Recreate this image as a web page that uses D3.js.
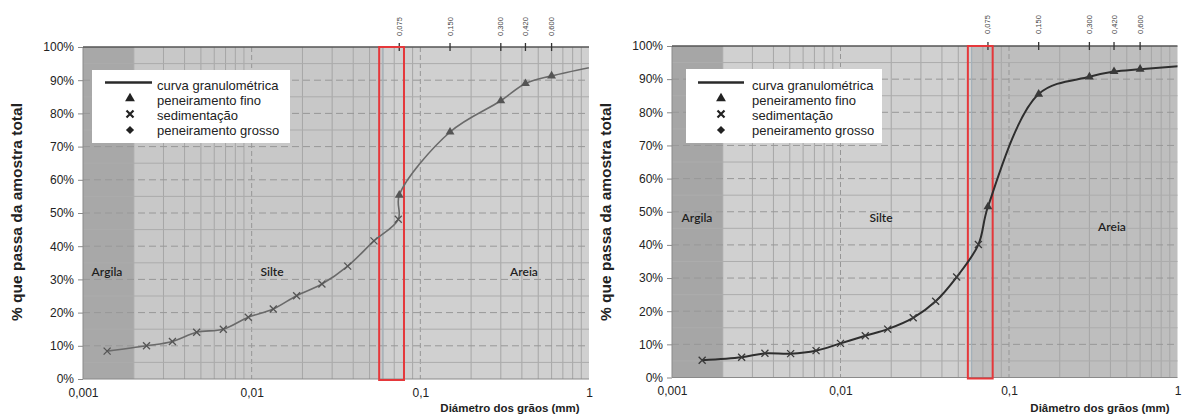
<!DOCTYPE html>
<html>
<head>
<meta charset="utf-8">
<script src="https://cdn.jsdelivr.net/npm/d3@7/dist/d3.min.js"></script>
<style>
  html, body { margin: 0; padding: 0; background: #ffffff; }
  svg { display: block; }
  text { font-family: "Liberation Sans", Arial, sans-serif; }
</style>
</head>
<body>
<svg id="chart" width="1184" height="417"></svg>
<script>
// ---- data -------------------------------------------------------------
// sieve openings (mm) for the fine sieving, also used as top-axis ticks
const sieveSizes = [0.075, 0.150, 0.300, 0.420, 0.600];
const sieveLabels = ["0,075", "0,150", "0,300", "0,420", "0,600"];

// bottom axis (log scale, mm)
const diameterTicks = [0.001, 0.01, 0.1, 1];
const diameterLabels = ["0,001", "0,01", "0,1", "1"];
const percentTicks = [0, 10, 20, 30, 40, 50, 60, 70, 80, 90, 100];

// soil fraction limits (mm) and names
const zoneLimits = [0.001, 0.002, 0.06, 1];
const zoneNames = ["Argila", "Silte", "Areia"];

// sample A – sedimentation (hydrometer) diameters and % passing
const sedSizesA = [0.00139, 0.00238, 0.00339, 0.00472, 0.00679, 0.00955, 0.01343, 0.01847, 0.0261, 0.0371, 0.0531, 0.0740];
const sedPassA  = [8.4, 10.0, 11.3, 14.1, 15.0, 18.6, 21.1, 25.1, 28.6, 34.0, 41.6, 48.1];
const finePassA = [55.4, 74.4, 83.8, 89.0, 91.3];
const coarseSizesA = [1.18];
const coarsePassA  = [94.5];

// sample B
const sedSizesB = [0.00151, 0.00259, 0.00356, 0.00506, 0.00716, 0.0100, 0.01403, 0.01905, 0.0270, 0.0367, 0.0489, 0.0658];
const sedPassB  = [5.2, 6.1, 7.3, 7.2, 8.1, 10.3, 12.6, 14.6, 18.0, 23.0, 30.3, 40.1];
const finePassB = [51.5, 85.5, 90.7, 92.3, 93.0];
const coarseSizesB = [1.18];
const coarsePassB  = [94.2];

// highlighted band (mm)
const bandLimits = [0.057, 0.08];

const legendLabels = ["curva granulométrica", "peneiramento fino", "sedimentação", "peneiramento grosso"];

// ---- panels -----------------------------------------------------------
const panels = [
  {
    id: "a", x0: 83, x1: 589, yTop: 47, yBot: 379,
    zoneColors: ["#a8a8a8", "#c8c8c8", "#d0d0d0"],
    zoneLabelPos: [[107, 276], [272, 276], [524, 276]],
    sedSizes: sedSizesA, sedPass: sedPassA, finePass: finePassA,
    coarseSizes: coarseSizesA, coarsePass: coarsePassA,
    curveColor: "#6a6a6a", curveWidth: 1.6, markColor: "#555",
    legend: { x: 92, y: 70, w: 198, h: 73, lineX: 105, lineW: 47, markX: 130, textX: 157 },
    yTitleX: 17, xTitle: "Diámetro dos grãos (mm)", xTitleX: 510, topLabelY: 26.5
  },
  {
    id: "b", x0: 672, x1: 1177.5, yTop: 46, yBot: 377.5,
    zoneColors: ["#a6a6a6", "#d0d0d0", "#bebebe"],
    zoneLabelPos: [[697, 222], [881, 222], [1112, 231]],
    sedSizes: sedSizesB, sedPass: sedPassB, finePass: finePassB,
    coarseSizes: coarseSizesB, coarsePass: coarsePassB,
    curveColor: "#2e2e2e", curveWidth: 2, markColor: "#3a3a3a",
    legend: { x: 686, y: 69, w: 196, h: 74, lineX: 698, lineW: 46, markX: 721, textX: 752 },
    yTitleX: 606, xTitle: "Diâmetro dos grãos (mm)", xTitleX: 1100, topLabelY: 24.5
  }
];

const svg = d3.select("#chart");

function crossPath(s) {
  return `M${-s},${-s}L${s},${s}M${-s},${s}L${s},${-s}`;
}

panels.forEach(p => {
  const x = d3.scaleLog().domain([0.001, 1]).range([p.x0, p.x1]);
  const y = d3.scaleLinear().domain([0, 100]).range([p.yBot, p.yTop]);
  const g = svg.append("g");

  const clipId = "clip-" + p.id;
  svg.append("clipPath").attr("id", clipId)
    .append("rect").attr("x", p.x0).attr("y", p.yTop - 6)
    .attr("width", p.x1 - p.x0).attr("height", p.yBot - p.yTop + 12);

  // soil fraction backgrounds
  zoneNames.forEach((name, i) => {
    g.append("rect")
      .attr("x", x(zoneLimits[i])).attr("y", p.yTop)
      .attr("width", x(zoneLimits[i + 1]) - x(zoneLimits[i]))
      .attr("height", p.yBot - p.yTop)
      .attr("fill", p.zoneColors[i]);
  });

  // vertical grid: minor (solid) and decades (dashed)
  const minor = [];
  for (let e = -3; e < 0; e++) {
    for (let m = 2; m <= 9; m++) minor.push(m * Math.pow(10, e));
  }
  g.append("g").selectAll("line").data(minor).join("line")
    .attr("x1", d => x(d)).attr("x2", d => x(d))
    .attr("y1", p.yTop).attr("y2", p.yBot)
    .attr("stroke", "#a6a6a6").attr("stroke-width", 1);
  g.append("g").selectAll("line").data(diameterTicks.slice(1, 3)).join("line")
    .attr("x1", d => x(d)).attr("x2", d => x(d))
    .attr("y1", p.yTop).attr("y2", p.yBot)
    .attr("stroke", "#969696").attr("stroke-width", 1).attr("stroke-dasharray", "5,3");

  // horizontal grid: every 5 %, tens dashed
  const fives = d3.range(5, 100, 10);
  g.append("g").selectAll("line").data(fives).join("line")
    .attr("x1", p.x0).attr("x2", p.x1)
    .attr("y1", d => y(d)).attr("y2", d => y(d))
    .attr("stroke", "#acacac").attr("stroke-width", 1);
  g.append("g").selectAll("line").data(percentTicks.slice(1, 10)).join("line")
    .attr("x1", p.x0).attr("x2", p.x1)
    .attr("y1", d => y(d)).attr("y2", d => y(d))
    .attr("stroke", "#989898").attr("stroke-width", 1).attr("stroke-dasharray", "7,4");

  // silt / sand boundary line
  g.append("line")
    .attr("x1", x(zoneLimits[2])).attr("x2", x(zoneLimits[2]))
    .attr("y1", p.yTop).attr("y2", p.yBot)
    .attr("stroke", "#a3b2bc").attr("stroke-width", 1);

  // zone names
  zoneNames.forEach((name, i) => {
    g.append("text")
      .attr("x", p.zoneLabelPos[i][0]).attr("y", p.zoneLabelPos[i][1])
      .attr("text-anchor", "middle")
      .style("font-family", "Lato, 'Open Sans', sans-serif")
      .style("font-size", "12px").style("font-weight", "600")
      .attr("fill", "#1e1e1e")
      .text(name);
  });

  // axes frame
  g.append("line").attr("x1", p.x0).attr("x2", p.x0).attr("y1", p.yTop).attr("y2", p.yBot)
    .attr("stroke", "#8a8a8a").attr("stroke-width", 1);
  g.append("line").attr("x1", p.x0).attr("x2", p.x1).attr("y1", p.yBot).attr("y2", p.yBot)
    .attr("stroke", "#8a8a8a").attr("stroke-width", 1);
  g.append("line").attr("x1", p.x0).attr("x2", p.x1).attr("y1", p.yTop).attr("y2", p.yTop)
    .attr("stroke", "#555").attr("stroke-width", 1.5);

  // left axis
  const yAxis = d3.axisLeft(y).tickValues(percentTicks).tickFormat(d => d + "%").tickSize(5).tickPadding(4);
  const ya = g.append("g").attr("transform", `translate(${p.x0},0)`).call(yAxis);
  ya.select(".domain").remove();
  ya.selectAll(".tick line").attr("stroke", "#888");
  ya.selectAll(".tick text").attr("fill", "#222")
    .style("font-family", "'Liberation Sans', Arial, sans-serif").style("font-size", "12px");

  // bottom axis
  const xAxis = d3.axisBottom(x).tickValues(diameterTicks)
    .tickFormat((d, i) => diameterLabels[i]).tickSize(0).tickPadding(9);
  const xa = g.append("g").attr("transform", `translate(0,${p.yBot})`).call(xAxis);
  xa.select(".domain").remove();
  xa.selectAll(".tick text").attr("fill", "#222")
    .style("font-family", "'Liberation Sans', Arial, sans-serif").style("font-size", "12px");

  // top axis: sieve openings
  const topTicks = g.append("g");
  topTicks.selectAll("line").data(sieveSizes).join("line")
    .attr("x1", d => x(d)).attr("x2", d => x(d))
    .attr("y1", p.yTop - 4).attr("y2", p.yTop + 4)
    .attr("stroke", "#333").attr("stroke-width", 1.3);
  topTicks.selectAll("text").data(sieveSizes).join("text")
    .attr("transform", d => `translate(${x(d) + 2.5},${p.topLabelY}) rotate(-90)`)
    .attr("text-anchor", "middle")
    .style("font-size", "7.5px").attr("fill", "#444")
    .text((d, i) => sieveLabels[i]);

  // highlighted band
  g.append("rect")
    .attr("x", x(bandLimits[0])).attr("y", p.yTop)
    .attr("width", x(bandLimits[1]) - x(bandLimits[0]))
    .attr("height", p.yBot - p.yTop + 1)
    .attr("fill", "none").attr("stroke", "#e5383b").attr("stroke-width", 2);

  // grading curve through all measured points
  const pts = [];
  p.sedSizes.forEach((s, i) => pts.push([s, p.sedPass[i]]));
  sieveSizes.forEach((s, i) => pts.push([s, p.finePass[i]]));
  p.coarseSizes.forEach((s, i) => pts.push([s, p.coarsePass[i]]));
  pts.sort((a, b) => a[0] - b[0]);

  const line = d3.line().x(d => x(d[0])).y(d => y(d[1]))
    .curve(d3.curveCatmullRom.alpha(0.5));
  g.append("path").datum(pts)
    .attr("clip-path", `url(#${clipId})`)
    .attr("d", line)
    .attr("fill", "none").attr("stroke", p.curveColor).attr("stroke-width", p.curveWidth);

  // sedimentation markers
  g.append("g").selectAll("path").data(p.sedSizes).join("path")
    .attr("transform", (d, i) => `translate(${x(d)},${y(p.sedPass[i])})`)
    .attr("d", crossPath(3.5))
    .attr("stroke", p.markColor).attr("stroke-width", 1.3).attr("fill", "none");

  // fine sieving markers
  const tri = d3.symbol().type(d3.symbolTriangle).size(34);
  g.append("g").selectAll("path").data(sieveSizes).join("path")
    .attr("transform", (d, i) => `translate(${x(d)},${y(p.finePass[i])})`)
    .attr("d", tri()).attr("fill", p.markColor);

  // coarse sieving markers (outside the visible range are clipped)
  const dia = d3.symbol().type(d3.symbolDiamond2).size(34);
  g.append("g").attr("clip-path", `url(#${clipId})`)
    .selectAll("path").data(p.coarseSizes).join("path")
    .attr("transform", (d, i) => `translate(${x(d)},${y(p.coarsePass[i])})`)
    .attr("d", dia()).attr("fill", p.markColor);

  // legend
  const L = p.legend;
  const lg = g.append("g");
  lg.append("rect").attr("x", L.x).attr("y", L.y).attr("width", L.w).attr("height", L.h)
    .attr("fill", "#ffffff");
  const rows = [90, 105, 120, 135];
  lg.selectAll("text").data(legendLabels).join("text")
    .attr("x", L.textX).attr("y", (d, i) => rows[i])
    .style("font-size", "13px").attr("fill", "#222")
    .text(d => d);
  lg.append("line").attr("x1", L.lineX).attr("x2", L.lineX + L.lineW)
    .attr("y1", 82.5).attr("y2", 82.5).attr("stroke", "#2a2a2a").attr("stroke-width", 2.5);
  lg.append("path").attr("transform", `translate(${L.markX},98.5)`)
    .attr("d", d3.symbol().type(d3.symbolTriangle).size(42)()).attr("fill", "#222");
  lg.append("path").attr("transform", `translate(${L.markX},114)`)
    .attr("d", crossPath(3.5)).attr("stroke", "#222").attr("stroke-width", 2.2).attr("fill", "none");
  lg.append("path").attr("transform", `translate(${L.markX},130)`)
    .attr("d", d3.symbol().type(d3.symbolDiamond2).size(42)()).attr("fill", "#222");

  // axis titles
  g.append("text")
    .attr("transform", `translate(${p.yTitleX},212) rotate(-90)`)
    .attr("text-anchor", "middle").attr("dy", "0.35em")
    .style("font-size", "15.5px").style("font-weight", "bold").attr("fill", "#222")
    .text("% que passa da amostra total");
  g.append("text")
    .attr("x", p.xTitleX).attr("y", 412)
    .attr("text-anchor", "middle")
    .style("font-size", "11.5px").style("font-weight", "bold").attr("fill", "#222")
    .text(p.xTitle);
});
</script>
</body>
</html>
